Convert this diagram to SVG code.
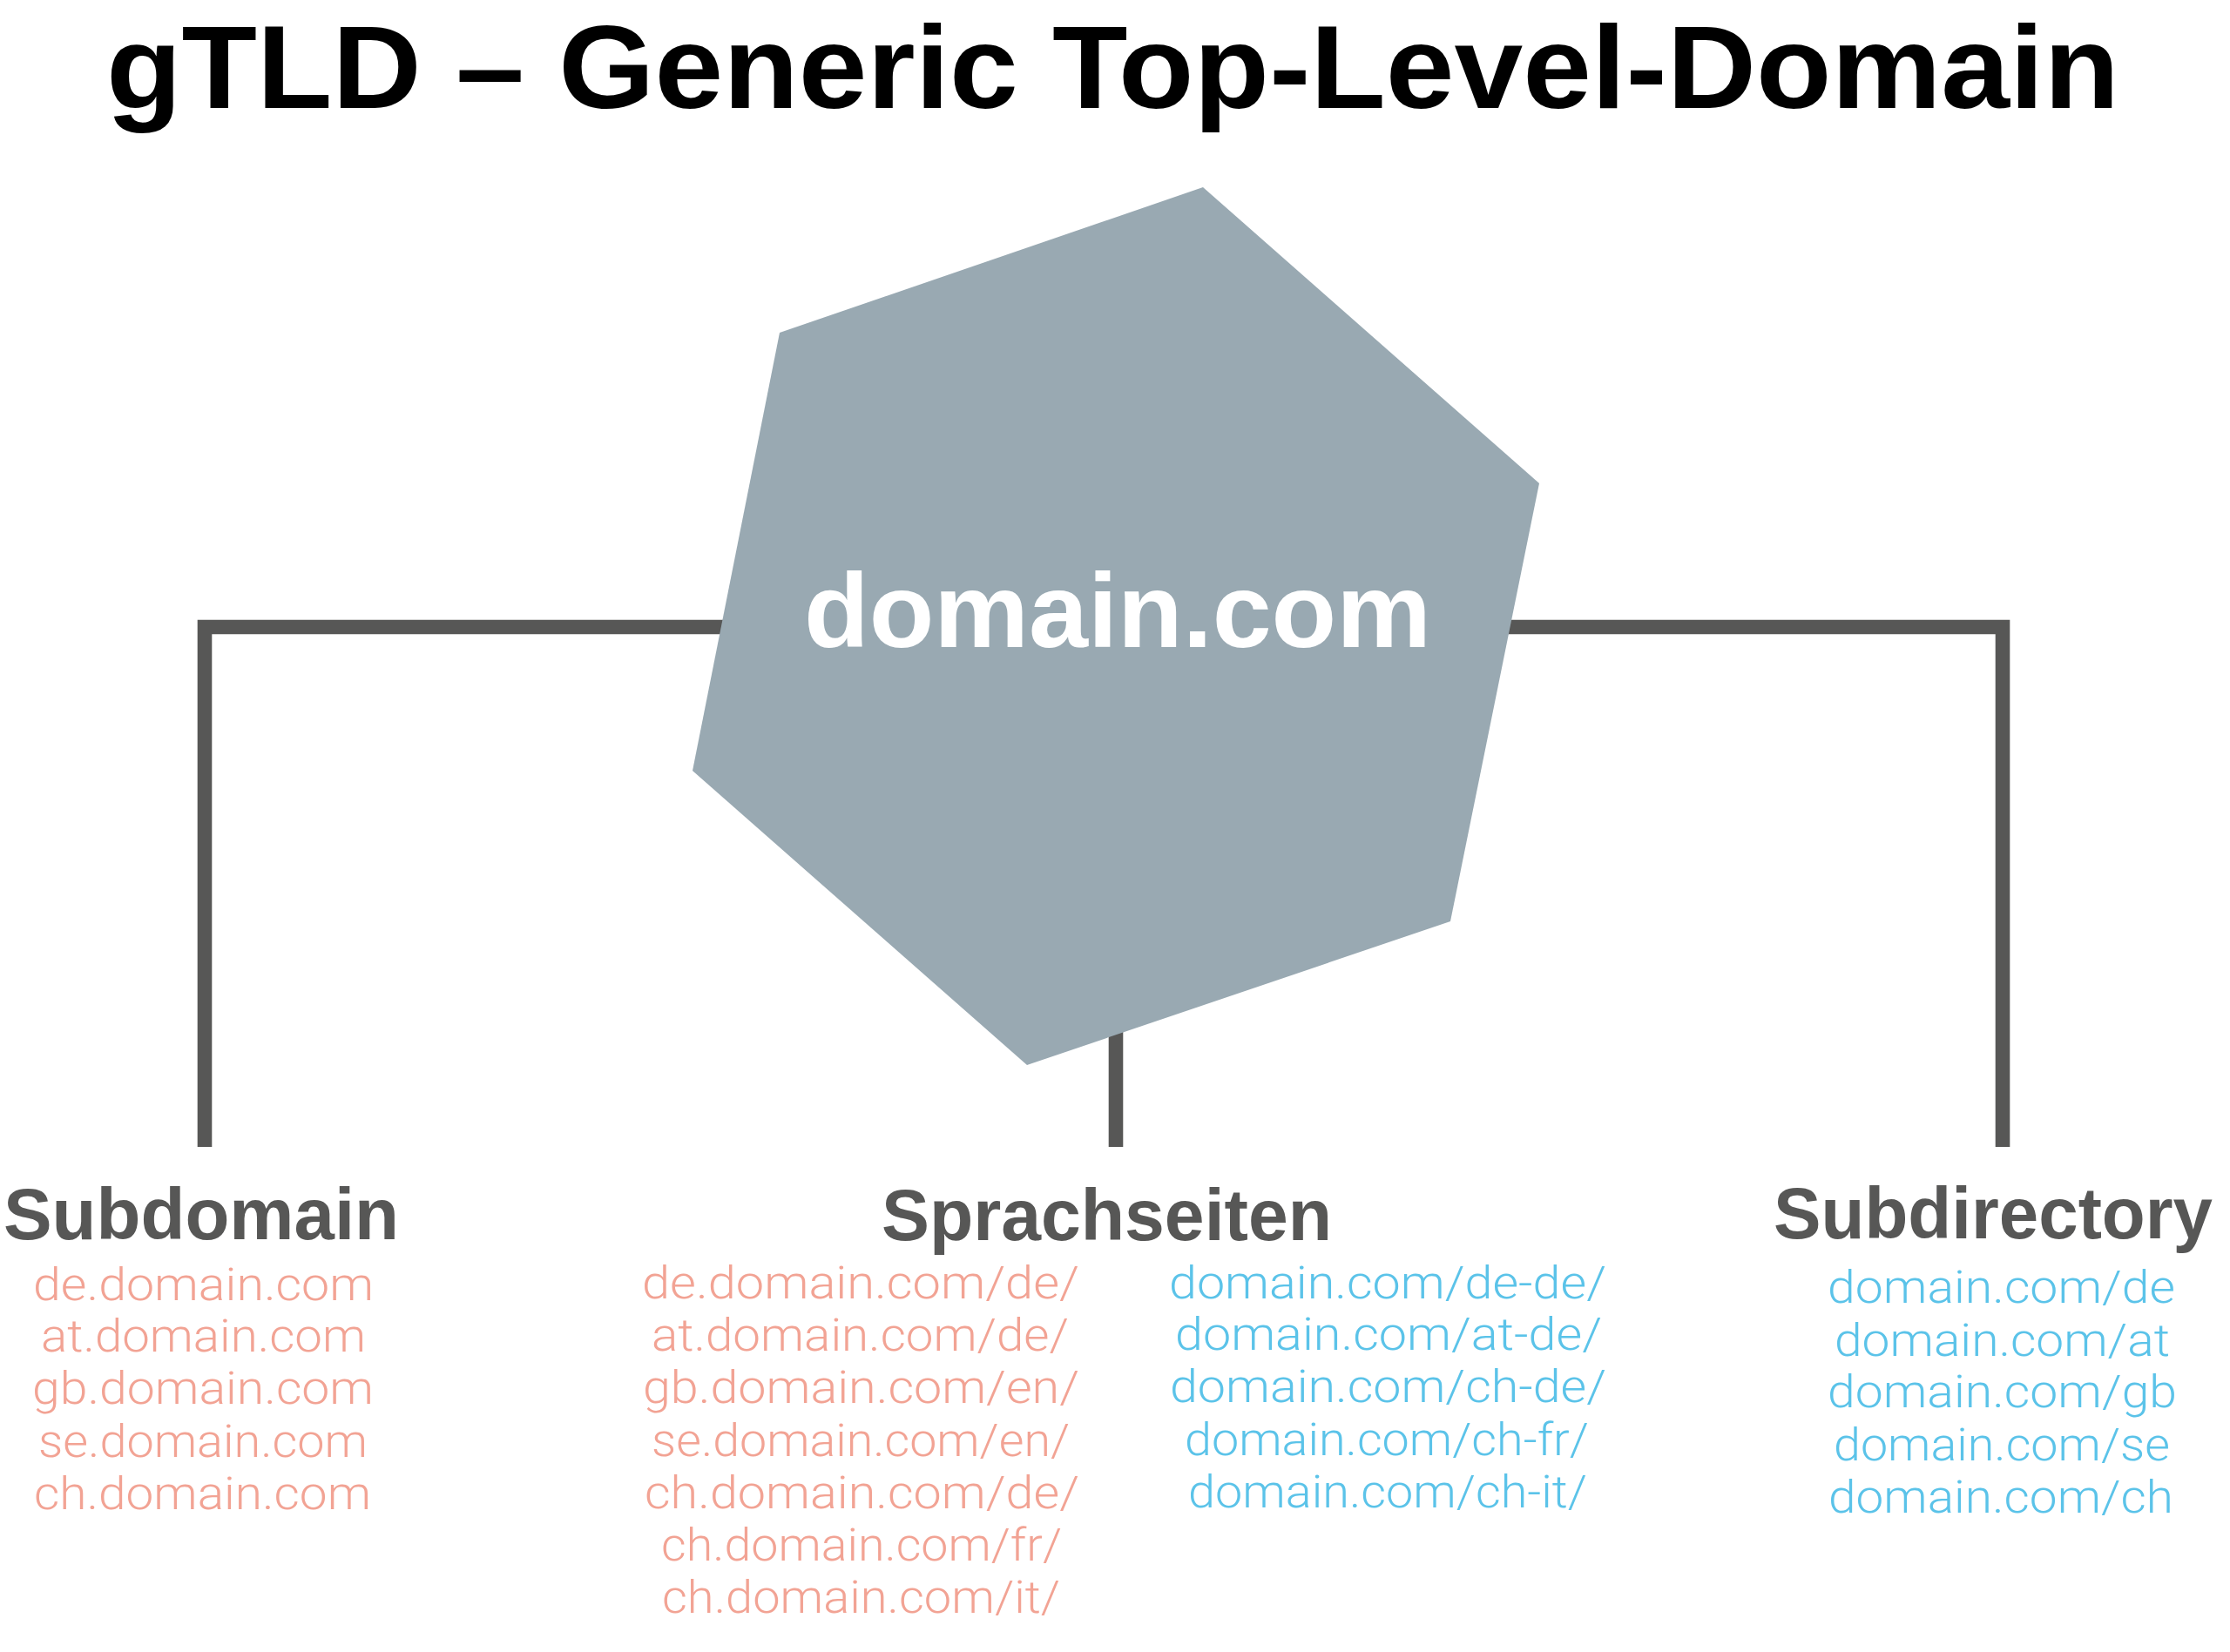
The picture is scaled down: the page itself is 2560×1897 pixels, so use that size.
<svg xmlns="http://www.w3.org/2000/svg" width="2560" height="1897" viewBox="0 0 2560 1897">
<style>
.title{font-family:"Liberation Sans",Arial,sans-serif;font-weight:bold;font-size:136px;fill:#000}
.head{font-family:"Liberation Sans",Arial,sans-serif;font-weight:bold;font-size:84px;fill:#575756}
.hex{fill:#99A9B2}
.hexlabel{font-family:"Liberation Sans",Arial,sans-serif;font-weight:bold;font-size:120px;fill:#fff}
.item{font-family:Roboto,"Liberation Sans",Arial,sans-serif;font-weight:300;font-size:51px}
.red{fill:#F2A394}
.blue{fill:#5BC3E9}
.conn{fill:none;stroke:#575756;stroke-width:16.6;stroke-linejoin:miter}
</style>
<rect width="2560" height="1897" fill="#fff"/>
<text class="title" x="122" y="124" textLength="2311" lengthAdjust="spacingAndGlyphs">gTLD – Generic Top-Level-Domain</text>
<g id="connectors">
<path class="conn" d="M235,1317 V720 H2299 V1317"/>
<path class="conn" d="M1281,720 V1317"/>
</g>
<g id="node-domain">
<polygon class="hex" points="1381,215 1767,555 1665,1058 1179,1223 795,885 895,382"/>
<text class="hexlabel" x="923" y="743" textLength="720" lengthAdjust="spacingAndGlyphs">domain.com</text>
</g>
<g id="node-subdomain">
<text class="head" x="4" y="1423" textLength="454" lengthAdjust="spacingAndGlyphs">Subdomain</text>
<text class="item red" x="38" y="1493" textLength="391" lengthAdjust="spacingAndGlyphs">de.domain.com</text>
<text class="item red" x="47" y="1552" textLength="373" lengthAdjust="spacingAndGlyphs">at.domain.com</text>
<text class="item red" x="37" y="1612" textLength="392" lengthAdjust="spacingAndGlyphs">gb.domain.com</text>
<text class="item red" x="44" y="1673" textLength="378" lengthAdjust="spacingAndGlyphs">se.domain.com</text>
<text class="item red" x="39" y="1733" textLength="387" lengthAdjust="spacingAndGlyphs">ch.domain.com</text>
</g>
<g id="node-sprachseiten">
<text class="head" x="1012" y="1424" textLength="517" lengthAdjust="spacingAndGlyphs">Sprachseiten</text>
<text class="item red" x="737" y="1491" textLength="502" lengthAdjust="spacingAndGlyphs">de.domain.com/de/</text>
<text class="item red" x="748" y="1551" textLength="479" lengthAdjust="spacingAndGlyphs">at.domain.com/de/</text>
<text class="item red" x="738" y="1611" textLength="501" lengthAdjust="spacingAndGlyphs">gb.domain.com/en/</text>
<text class="item red" x="748" y="1672" textLength="480" lengthAdjust="spacingAndGlyphs">se.domain.com/en/</text>
<text class="item red" x="740" y="1732" textLength="499" lengthAdjust="spacingAndGlyphs">ch.domain.com/de/</text>
<text class="item red" x="759" y="1792" textLength="460" lengthAdjust="spacingAndGlyphs">ch.domain.com/fr/</text>
<text class="item red" x="760" y="1852" textLength="457" lengthAdjust="spacingAndGlyphs">ch.domain.com/it/</text>
<text class="item blue" x="1342" y="1491" textLength="502" lengthAdjust="spacingAndGlyphs">domain.com/de-de/</text>
<text class="item blue" x="1349" y="1550" textLength="490" lengthAdjust="spacingAndGlyphs">domain.com/at-de/</text>
<text class="item blue" x="1343" y="1610" textLength="501" lengthAdjust="spacingAndGlyphs">domain.com/ch-de/</text>
<text class="item blue" x="1360" y="1671" textLength="464" lengthAdjust="spacingAndGlyphs">domain.com/ch-fr/</text>
<text class="item blue" x="1364" y="1731" textLength="458" lengthAdjust="spacingAndGlyphs">domain.com/ch-it/</text>
</g>
<g id="node-subdirectory">
<text class="head" x="2036" y="1422" textLength="504" lengthAdjust="spacingAndGlyphs">Subdirectory</text>
<text class="item blue" x="2098" y="1496" textLength="399" lengthAdjust="spacingAndGlyphs">domain.com/de</text>
<text class="item blue" x="2106" y="1557" textLength="385" lengthAdjust="spacingAndGlyphs">domain.com/at</text>
<text class="item blue" x="2098" y="1616" textLength="401" lengthAdjust="spacingAndGlyphs">domain.com/gb</text>
<text class="item blue" x="2105" y="1677" textLength="386" lengthAdjust="spacingAndGlyphs">domain.com/se</text>
<text class="item blue" x="2099" y="1737" textLength="396" lengthAdjust="spacingAndGlyphs">domain.com/ch</text>
</g>
</svg>
